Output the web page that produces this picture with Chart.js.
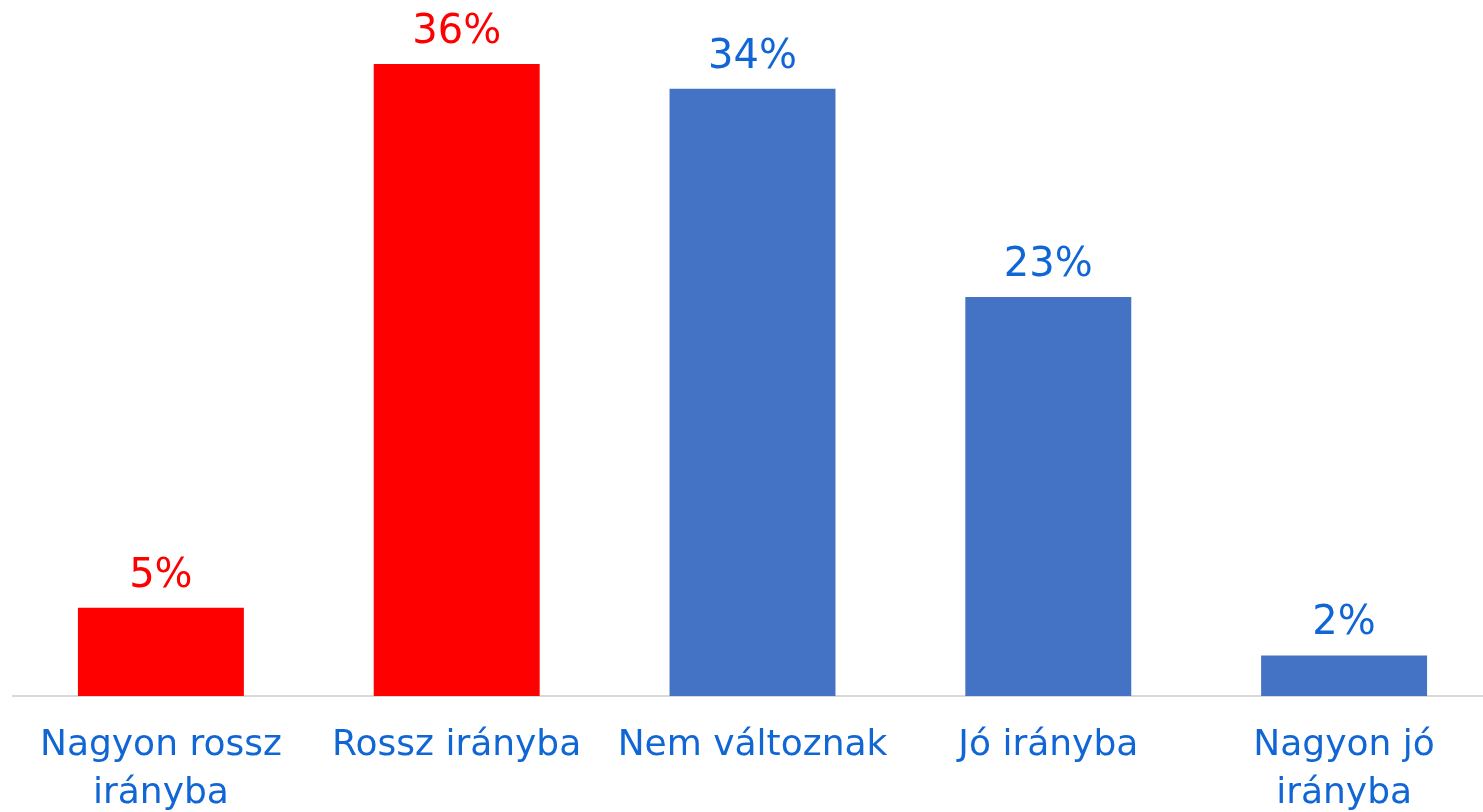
<!DOCTYPE html>
<html>
<head>
<meta charset="utf-8">
<script src="https://cdn.jsdelivr.net/npm/chart.js@4"></script>
<style>
  body { margin: 0; background: #fff; }
  #clip { width: 1483px; height: 812px; overflow: hidden; }
  #wrap { width: 1492px; height: 812px; }
</style>
</head>
<body>
<div id="clip"><div id="wrap"><canvas id="myChart"></canvas></div></div>
<script>
// adatok (oszlopmagasság, a címke kerekített)
const kategoriak = [
  ["Nagyon rossz", "irányba"],
  "Rossz irányba",
  "Nem változnak",
  "Jó irányba",
  ["Nagyon jó", "irányba"]
];
const ertekek = [5.0, 35.8, 34.4, 22.6, 2.3];
const oszlopSzinek = ["#FF0000", "#FF0000", "#4472C4", "#4472C4", "#4472C4"];
const cimkeSzinek = ["#FF0000", "#FF0000", "#1166D6", "#1166D6", "#1166D6"];

const betu = "'DejaVu Sans', sans-serif";

// értékcímkék az oszlopok fölé
const ertekCimkek = {
  id: "ertekCimkek",
  afterDatasetsDraw(chart) {
    const ctx = chart.ctx;
    const meta = chart.getDatasetMeta(0);
    ctx.save();
    ctx.font = "40px " + betu;
    ctx.textAlign = "center";
    ctx.textBaseline = "alphabetic";
    meta.data.forEach((bar, i) => {
      ctx.fillStyle = cimkeSzinek[i];
      ctx.fillText(Math.round(ertekek[i]) + "%", bar.x, bar.y - 21);
    });
    ctx.restore();
  },
};

new Chart(document.getElementById("myChart"), {
  type: "bar",
  data: {
    labels: kategoriak,
    datasets: [
      {
        data: ertekek,
        backgroundColor: oszlopSzinek,
        categoryPercentage: 1,
        barPercentage: 0.561,
      },
    ],
  },
  options: {
    responsive: true,
    maintainAspectRatio: false,
    animation: false,
    layout: { padding: { left: 13, top: 0, right: 0, bottom: 0 } },
    plugins: {
      legend: { display: false },
      tooltip: { enabled: false },
    },
    scales: {
      x: {
        grid: { display: false },
        border: { display: true, color: "#D9D9D9", width: 2 },
        ticks: {
          color: "#1166D6",
          font: { family: betu, size: 36, lineHeight: 1.33 },
          padding: 18,
          maxRotation: 0,
          autoSkip: false,
        },
        afterFit(scale) {
          scale.height = 116;
        },
      },
      y: {
        display: false,
        min: 0,
        max: 39.43,
      },
    },
  },
  plugins: [ertekCimkek],
});
</script>
</body>
</html>
